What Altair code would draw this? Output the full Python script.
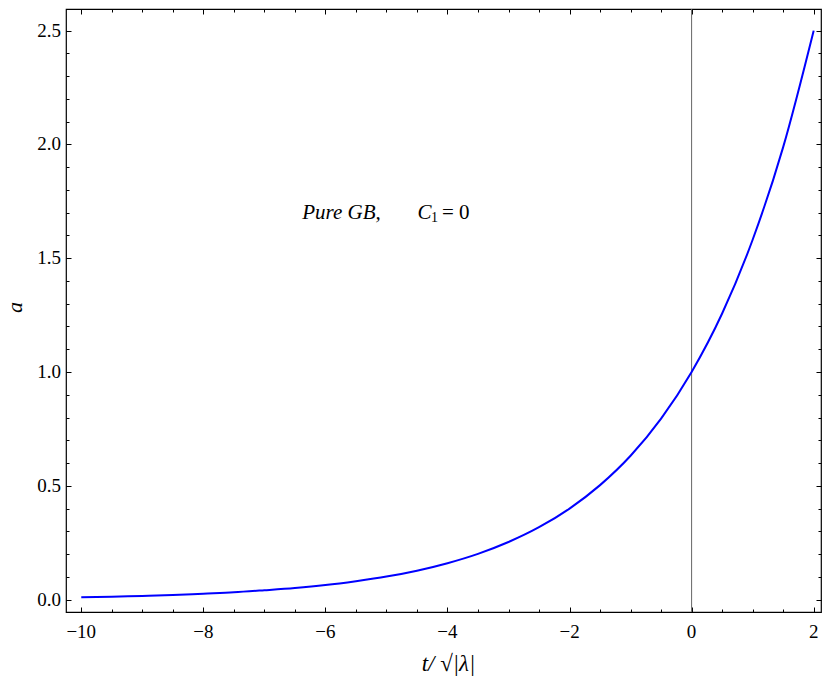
import altair as alt
import pandas as pd

# ---- data ----
t_values = [-10, -9.5, -9, -8.5, -8, -7.5, -7, -6.5, -6, -5.5, -5, -4.5, -4,
            -3.5, -3, -2.5, -2, -1.5, -1, -0.5, 0, 0.5, 1, 1.5, 2]
a_values = [0.010, 0.013, 0.016, 0.020, 0.026, 0.032, 0.041, 0.051, 0.064,
            0.081, 0.101, 0.127, 0.160, 0.201, 0.253, 0.318, 0.400, 0.503,
            0.632, 0.795, 1.000, 1.257, 1.581, 1.988, 2.500]

x_major = [-10, -8, -6, -4, -2, 0, 2]
x_tick_labels = ["\u221210", "\u22128", "\u22126", "\u22124", "\u22122", "0", "2"]
x_minor = [round(-10 + 0.5 * i, 2) for i in range(25)]
y_major = [0.0, 0.5, 1.0, 1.5, 2.0, 2.5]
y_tick_labels = ["0.0", "0.5", "1.0", "1.5", "2.0", "2.5"]
y_minor = [round(0.1 * i, 2) for i in range(26)]

x_title = "t/ \u221a|\u03bb|"
y_title = "a"

vline_t = [0]

# annotation pieces: text, t, a, font size, style
ann_text = ["Pure GB,", "C", "1", "= 0"]
ann_t = [-6.38, -4.49, -4.27, -4.09]
ann_a = [1.70, 1.70, 1.677, 1.70]
ann_size = [21, 21, 14, 21]
ann_style = ["italic", "italic", "normal", "normal"]

X_DOMAIN = [-10.25, 2.12]
Y_DOMAIN = [-0.0545, 2.595]
W, H = 755, 603

FONT = "Liberation Serif"

curve = pd.DataFrame({"t": t_values, "a": a_values})
vline = pd.DataFrame({"t": vline_t})
ann = pd.DataFrame({"label": ann_text, "t": ann_t, "a": ann_a,
                    "size": ann_size, "style": ann_style})
xlab = pd.DataFrame({"v": x_major, "label": x_tick_labels})
ylab = pd.DataFrame({"v": y_major, "label": y_tick_labels})

xs = alt.Scale(domain=X_DOMAIN, nice=False, zero=False)
ys = alt.Scale(domain=Y_DOMAIN, nice=False, zero=False)


def tick_axis(orient, values, size):
    return alt.Axis(orient=orient, values=values, offset=-size, tickSize=size,
                    tickWidth=1, tickColor="black", domain=False, grid=False,
                    labels=False, title=None)


rule = alt.Chart(vline).mark_rule(color="#666666", strokeWidth=1).encode(
    x=alt.X("t:Q", scale=xs, axis=None))

line = alt.Chart(curve).mark_line(color="#0000ff", strokeWidth=2,
                                  interpolate="monotone").encode(
    x=alt.X("t:Q", scale=xs, axis=tick_axis("bottom", x_major, 5)),
    y=alt.Y("a:Q", scale=ys, axis=tick_axis("left", y_major, 5)))

ghost = alt.Chart(curve).mark_line(opacity=0)

minor_bl = ghost.encode(
    x=alt.X("t:Q", scale=xs, axis=tick_axis("bottom", x_minor, 3)),
    y=alt.Y("a:Q", scale=ys, axis=tick_axis("left", y_minor, 3)))
major_tr = ghost.encode(
    x=alt.X("t:Q", scale=xs, axis=tick_axis("top", x_major, 5)),
    y=alt.Y("a:Q", scale=ys, axis=tick_axis("right", y_major, 5)))
minor_tr = ghost.encode(
    x=alt.X("t:Q", scale=xs, axis=tick_axis("top", x_minor, 3)),
    y=alt.Y("a:Q", scale=ys, axis=tick_axis("right", y_minor, 3)))

x_labels = alt.Chart(xlab).mark_text(
    font=FONT, fontSize=19, align="center", baseline="middle", color="black"
).encode(x=alt.X("v:Q", scale=xs, axis=None), y=alt.value(H + 20),
         text="label:N")

y_labels = alt.Chart(ylab).mark_text(
    font=FONT, fontSize=19, align="right", baseline="middle", color="black"
).encode(x=alt.value(-5), y=alt.Y("v:Q", scale=ys, axis=None),
         text="label:N")

titles = pd.DataFrame({"label": [x_title]})
x_title_mark = alt.Chart(titles).mark_text(
    font=FONT, fontSize=23, fontStyle="italic", align="center",
    baseline="alphabetic", color="black"
).encode(x=alt.value(W / 2 + 5), y=alt.value(H + 59), text="label:N")

y_title_df = pd.DataFrame({"label": [y_title]})
y_title_mark = alt.Chart(y_title_df).mark_text(
    font=FONT, fontSize=22, fontStyle="italic", align="center",
    baseline="middle", color="black", angle=270
).encode(x=alt.value(-51), y=alt.value(H / 2 - 3), text="label:N")

text_layers = []
for style in ["italic", "normal"]:
    text_layers.append(
        alt.Chart(ann).transform_filter(alt.datum.style == style)
        .mark_text(font=FONT, fontStyle=style, align="left",
                   baseline="middle", color="black")
        .encode(x=alt.X("t:Q", scale=xs, axis=None),
                y=alt.Y("a:Q", scale=ys, axis=None),
                size=alt.Size("size:Q", scale=None, legend=None),
                text="label:N"))

chart = alt.layer(
    rule, line, minor_bl, major_tr, minor_tr, x_labels, y_labels,
    x_title_mark, y_title_mark, *text_layers
).resolve_axis(
    x="independent", y="independent"
).properties(
    width=W, height=H,
    background="white",
    padding={"left": 58, "top": 1, "right": 1, "bottom": 64},
    autosize=alt.AutoSizeParams(type="none"),
).configure(
    font=FONT
).configure_view(
    stroke="black", strokeWidth=1.2
)

chart.save("out.html", embed_options={"renderer": "svg", "actions": False})
